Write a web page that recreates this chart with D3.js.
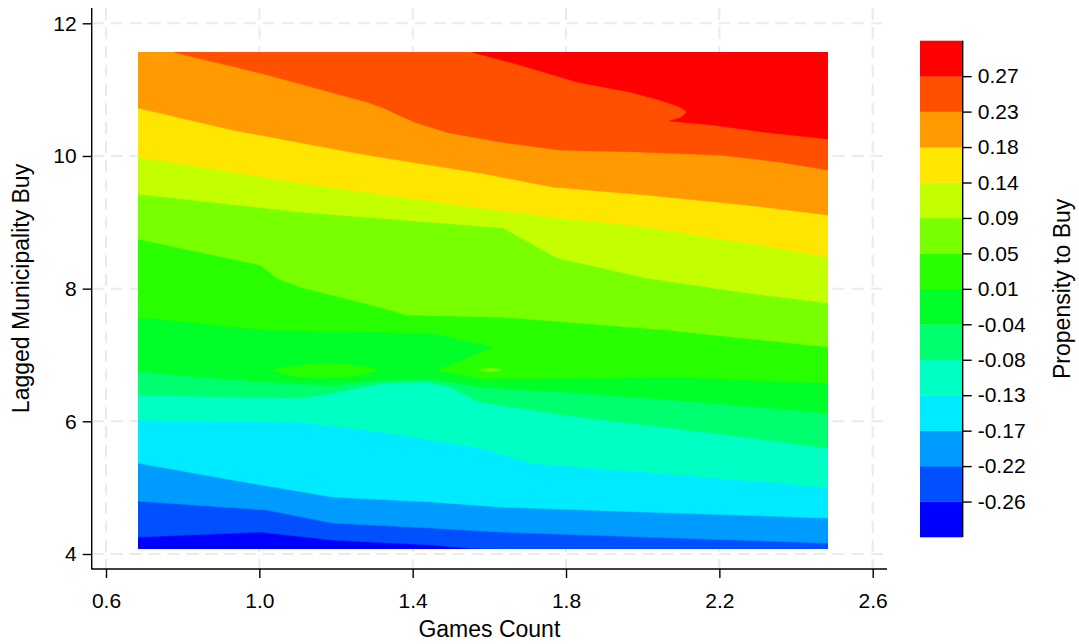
<!DOCTYPE html>
<html>
<head>
<meta charset="utf-8">
<script src="https://cdn.jsdelivr.net/npm/d3@7"></script>
<style>
  body { margin: 0; background: #fff; }
  text { font-family: "Liberation Sans", Arial, sans-serif; fill: #000; }
</style>
</head>
<body>
<div id="chart"></div>
<script>
// ---- data ----
const xTicks = [0.6, 1.0, 1.4, 1.8, 2.2, 2.6];
const yTicks = [4, 6, 8, 10, 12];
const levelLabels = ["-0.26", "-0.22", "-0.17", "-0.13", "-0.08", "-0.04", "0.01",
                     "0.05", "0.09", "0.14", "0.18", "0.23", "0.27"];
const bandColors = ["#0000FF", "#0050FF", "#009BFF", "#00EBFF", "#00FFC3", "#00FF6E", "#00FF28",
                    "#28FF00", "#78FF00", "#C3FF00", "#FFE600", "#FF9B00", "#FF5000", "#FF0000"];

// extent of the estimated surface
const gridX = [0.683, 2.484];
const gridY = [4.075, 11.56];

// contour lines, one per level (x = games count, y = lagged buy)
const c_m026 = [[0.683,4.256],[1.002,4.332],[1.192,4.211],[1.453,4.136],[1.542,4.090],[1.628,4.075]];
const c_m022 = [[0.683,4.799],[1.020,4.663],[1.192,4.467],[1.453,4.392],[1.628,4.332],[2.011,4.256],[2.484,4.166]];
const c_m017 = [[0.683,5.372],[0.931,5.116],[1.192,4.859],[1.453,4.784],[1.628,4.709],[2.011,4.633],[2.484,4.543]];
const c_m013 = [[0.683,6.020],[1.106,5.990],[1.281,5.869],[1.453,5.719],[1.576,5.598],[1.706,5.372],[2.011,5.236],[2.484,5.010]];
const c_m008 = [[0.683,6.397],[1.106,6.352],[1.192,6.427],[1.323,6.578],[1.437,6.593],[1.497,6.518],[1.576,6.292],[1.837,6.065],[2.184,5.824],[2.484,5.598]];
const c_m004 = [[0.683,6.759],[0.845,6.668],[1.106,6.563],[1.192,6.548],[1.323,6.623],[1.437,6.638],[1.497,6.593],[1.576,6.518],[1.837,6.427],[2.184,6.277],[2.484,6.126]];
const c_p001 = [[0.683,7.573],[1.020,7.377],[1.453,7.332],[1.610,7.121],[1.550,6.970],[1.464,6.774],[1.576,6.638],[1.837,6.653],[2.098,6.668],[2.484,6.578]];
const c_p005 = [[0.683,8.749],[1.002,8.357],[1.046,8.161],[1.106,8.025],[1.323,7.709],[1.385,7.603],[1.628,7.573],[1.837,7.483],[2.064,7.377],[2.484,7.121]];
const c_p009 = [[0.683,9.427],[1.106,9.156],[1.576,8.945],[1.636,8.915],[1.777,8.463],[2.011,8.161],[2.272,7.935],[2.484,7.784]];
const c_p014 = [[0.683,9.985],[1.106,9.593],[1.576,9.216],[1.766,9.081],[2.011,8.930],[2.272,8.689],[2.484,8.478]];
const c_p018 = [[0.683,10.724],[0.931,10.392],[1.281,10.015],[1.576,9.744],[1.766,9.533],[2.011,9.412],[2.272,9.262],[2.484,9.111]];
const c_p023 = [[0.780,11.56],[1.002,11.252],[1.281,10.814],[1.330,10.710],[1.370,10.600],[1.411,10.498],[1.497,10.347],[1.628,10.211],[1.784,10.091],[1.993,10.061],[2.202,10.015],[2.358,9.910],[2.484,9.789]];
const c_p027 = [[1.557,11.56],[1.680,11.372],[1.829,11.116],[1.967,10.965],[2.045,10.845],[2.098,10.739],[2.116,10.664],[2.098,10.573],[2.071,10.528],[2.184,10.468],[2.314,10.362],[2.484,10.257]];
const contours = [c_m026, c_m022, c_m017, c_m013, c_m008, c_m004, c_p001, c_p005, c_p009, c_p014, c_p018, c_p023, c_p027];

// small closed islands: band index + outline
const islandBands = [7, 8];
const islandShapes = [
  [[1.036,6.774],[1.106,6.849],[1.177,6.880],[1.250,6.849],[1.307,6.774],[1.250,6.683],[1.184,6.653],[1.106,6.668]],
  [[1.571,6.774],[1.602,6.804],[1.633,6.774],[1.602,6.744]]
];

//=========================== SETUP ===========================
const W = 1079, H = 644;
const svg = d3.select("#chart").append("svg")
  .attr("width", W).attr("height", H)
  .style("background", "#fff");

const x = d3.scaleLinear().domain([0.6, 2.6]).range([106, 872.7]);
const y = d3.scaleLinear().domain([4, 12]).range([554, 23.3]);
const axisLeftX = 91.7, axisBottomY = 569;
const axisTopY = 8, axisRightX = 887;

//=========================== GRID ===========================
const grid = svg.append("g");
grid.selectAll(".vg").data(xTicks).enter().append("line")
  .attr("x1", d => x(d)).attr("x2", d => x(d))
  .attr("y1", axisTopY).attr("y2", axisBottomY)
  .attr("stroke", "#ebebeb").attr("stroke-width", 2).attr("stroke-dasharray", "12,7");
grid.selectAll(".hg").data(yTicks).enter().append("line")
  .attr("x1", axisLeftX).attr("x2", axisRightX)
  .attr("y1", d => y(d)).attr("y2", d => y(d))
  .attr("stroke", "#ebebeb").attr("stroke-width", 2).attr("stroke-dasharray", "12,7");

//=========================== FILLED CONTOURS ===========================
// snap the surface box to whole pixels so stacked edges stay clean
const sx0 = Math.round(x(gridX[0])), sx1 = Math.round(x(gridX[1]));
const sy0 = Math.round(y(gridY[1])), sy1 = Math.round(y(gridY[0]));

svg.append("clipPath").attr("id", "surf")
  .append("rect")
  .attr("x", sx0).attr("y", sy0)
  .attr("width", sx1 - sx0).attr("height", sy1 - sy0);

const line = d3.line().x(d => x(d[0])).y(d => y(d[1]));
const surf = svg.append("g").attr("clip-path", "url(#surf)");

// lowest band covers everything, then each band above a contour is painted over
surf.append("rect")
  .attr("x", sx0).attr("y", sy0)
  .attr("width", sx1 - sx0).attr("height", sy1 - sy0)
  .attr("fill", bandColors[0]);

// extend the line ends a little outside the box; the clip trims them
const pad = 0.05;
const above = (c) => {
  const pts = c.slice();
  const first = pts[0], last = pts[pts.length - 1];
  if (first[0] <= gridX[0]) pts.unshift([gridX[0] - pad, first[1]]);
  else pts.unshift([first[0], gridY[1] + pad]);
  if (last[0] >= gridX[1]) pts.push([gridX[1] + pad, last[1]]);
  else { pts.push([last[0], gridY[0] - pad]); pts.push([gridX[1] + pad, gridY[0] - pad]); }
  pts.push([gridX[1] + pad, gridY[1] + pad]);
  pts.push([gridX[0] - pad, gridY[1] + pad]);
  return pts;
};

contours.forEach((c, i) => {
  surf.append("path")
    .attr("d", line(above(c)) + "Z")
    .attr("fill", bandColors[i + 1])
    .attr("stroke", bandColors[i + 1]).attr("stroke-width", 0.6);
});

islandShapes.forEach((s, i) => {
  surf.append("path")
    .attr("d", d3.line().x(d => x(d[0])).y(d => y(d[1])).curve(d3.curveCardinalClosed)(s))
    .attr("fill", bandColors[islandBands[i]]);
});

//=========================== AXES ===========================
svg.append("line")
  .attr("x1", axisLeftX).attr("x2", axisLeftX)
  .attr("y1", axisTopY).attr("y2", axisBottomY + 0.5)
  .attr("stroke", "#000").attr("stroke-width", 1.4);
svg.append("line")
  .attr("x1", axisLeftX).attr("x2", axisRightX)
  .attr("y1", axisBottomY).attr("y2", axisBottomY)
  .attr("stroke", "#000").attr("stroke-width", 1.4);

const yAxis = svg.append("g")
  .attr("transform", `translate(${axisLeftX},0)`)
  .call(d3.axisLeft(y).tickValues(yTicks).tickSize(9).tickPadding(6).tickFormat(d3.format("d")));
yAxis.select(".domain").remove();
yAxis.selectAll("line").attr("stroke-width", 1.4);
yAxis.selectAll("text").style("font-size", "21px").attr("font-family", null);

const xAxis = svg.append("g")
  .attr("transform", `translate(0,${axisBottomY})`)
  .call(d3.axisBottom(x).tickValues(xTicks).tickSize(9).tickPadding(15).tickFormat(d3.format(".1f")));
xAxis.select(".domain").remove();
xAxis.selectAll("line").attr("stroke-width", 1.4);
xAxis.selectAll("text").style("font-size", "21px").attr("font-family", null);

svg.append("text")
  .attr("x", (axisLeftX + axisRightX) / 2).attr("y", 637)
  .attr("text-anchor", "middle").style("font-size", "23px")
  .text("Games Count");

svg.append("text")
  .attr("transform", `translate(29,${(axisTopY + axisBottomY) / 2}) rotate(-90)`)
  .attr("text-anchor", "middle").style("font-size", "23px")
  .text("Lagged Municipality Buy");

//=========================== COLOR BAR ===========================
const cbLeft = 920, cbRight = 962.7;
const cb = d3.scaleLinear().domain([0, bandColors.length]).range([537, 40.7]);

svg.append("g").selectAll("rect").data(bandColors).enter().append("rect")
  .attr("x", cbLeft).attr("width", cbRight - cbLeft)
  .attr("y", (d, i) => cb(i + 1)).attr("height", (d, i) => cb(i) - cb(i + 1) + 0.3)
  .attr("fill", d => d);

const cbAxis = svg.append("g")
  .attr("transform", `translate(${cbRight},0)`)
  .call(d3.axisRight(cb).tickValues(d3.range(1, bandColors.length)).tickSize(9).tickPadding(6)
    .tickFormat(d => levelLabels[d - 1]));
cbAxis.select(".domain").remove();
cbAxis.selectAll("line").attr("stroke-width", 1.4);
cbAxis.selectAll("text").style("font-size", "21px").attr("font-family", null);

svg.append("line")
  .attr("x1", cbRight).attr("x2", cbRight)
  .attr("y1", cb(bandColors.length)).attr("y2", cb(0))
  .attr("stroke", "#000").attr("stroke-width", 1.4);

svg.append("text")
  .attr("transform", `translate(1070,${(cb(0) + cb(bandColors.length)) / 2}) rotate(-90)`)
  .attr("text-anchor", "middle").style("font-size", "23px")
  .text("Propensity to Buy");
</script>
</body>
</html>
